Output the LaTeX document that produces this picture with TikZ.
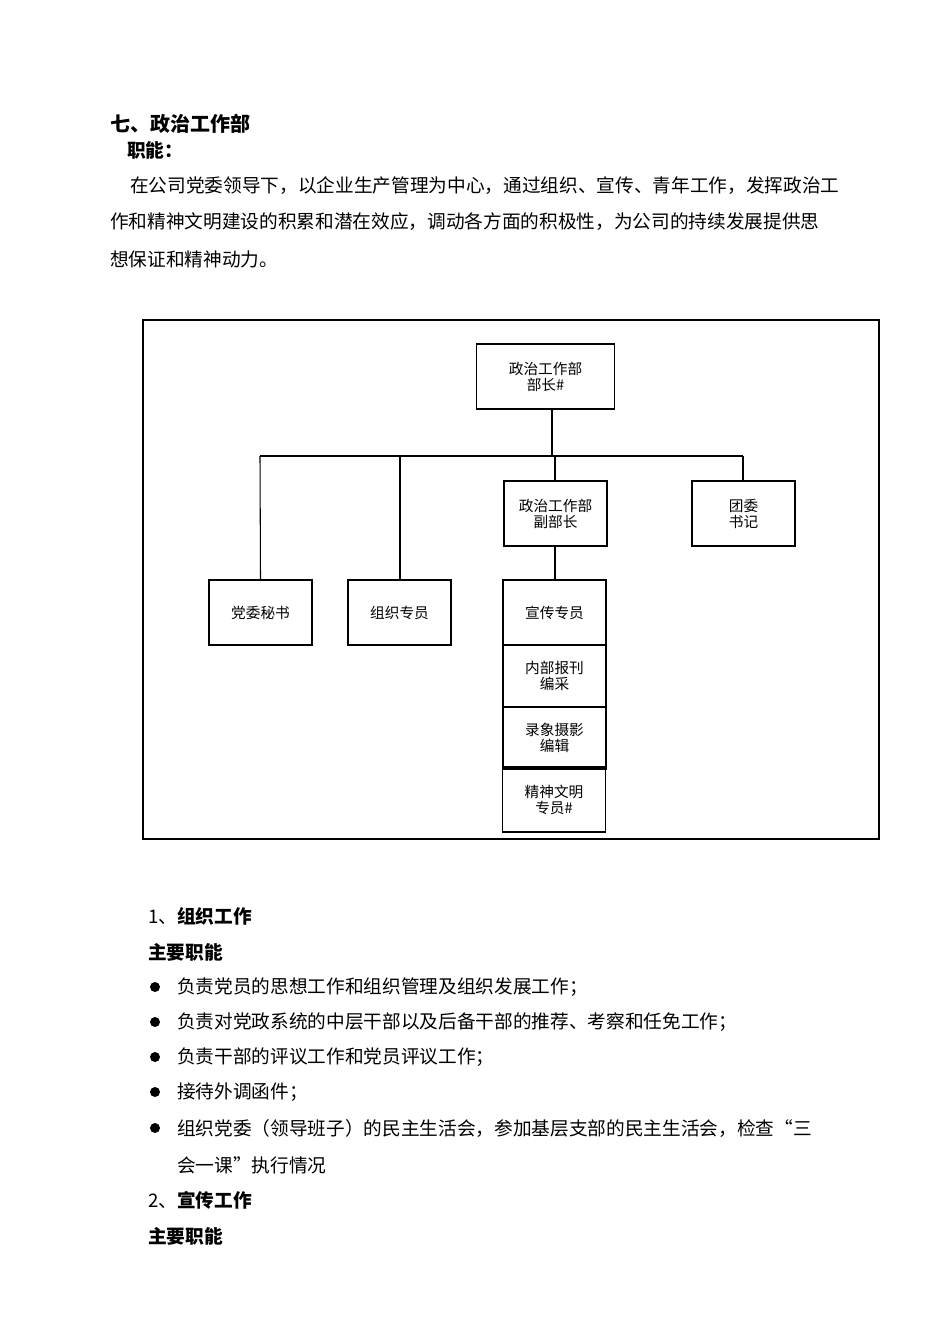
\documentclass[tikz,border=0pt]{standalone}
\usepackage{fontspec}
\setmainfont{Noto Sans CJK SC}
\usetikzlibrary{positioning}
\tikzset{
  orgbox/.style={draw, thick, inner sep=0pt, align=center, font=\fontsize{11}{12}\selectfont},
  bodytext/.style={anchor=west, inner sep=0pt, font=\fontsize{14}{16}\selectfont},
  bullet/.style={circle, fill, inner sep=0pt, minimum size=7.5pt}
}
\begin{document}
\begin{tikzpicture}[x=0.75pt, y=-0.75pt]
\useasboundingbox[fill=white] (0,0) rectangle (950,1344);

% Heading and text
\node[bodytext, font=\fontsize{15}{17}\selectfont\bfseries] (title) at (110,124) {七、政治工作部};
\node[bodytext, font=\fontsize{14}{16}\selectfont\bfseries] (duty) at (127,150) {职能：};
\node[bodytext] (para1) at (130,186) {在公司党委领导下，以企业生产管理为中心，通过组织、宣传、青年工作，发挥政治工};
\node[bodytext] (para2) at (110,222) {作和精神文明建设的积累和潜在效应，调动各方面的积极性，为公司的持续发展提供思};
\node[bodytext] (para3) at (110,259) {想保证和精神动力。};

% Chart frame
\draw[thick] (143,320) rectangle (879,839);

% Boxes
\node[orgbox, minimum width=103pt, minimum height=48.75pt] (head) at (545.5,376.5) {政治工作部\\部长\#};
\node[orgbox, minimum width=77.25pt, minimum height=48.75pt] (deputy) at (555.5,513.5) {政治工作部\\副部长};
\node[orgbox, minimum width=77.25pt, minimum height=48.75pt] (youth) at (743.5,513.5) {团委\\书记};
\node[orgbox, minimum width=77.25pt, minimum height=48.75pt] (secretary) at (260.5,612.5) {党委秘书};
\node[orgbox, minimum width=77.25pt, minimum height=48.75pt] (organize) at (399.5,612.5) {组织专员};
\node[orgbox, minimum width=77.25pt, minimum height=48.75pt] (publicity) at (554.5,612.5) {宣传专员};
\node[orgbox, minimum width=77.25pt, minimum height=46.5pt] (press) at (554.5,676) {内部报刊\\编采};
\node[orgbox, minimum width=77.25pt, minimum height=46.5pt] (video) at (554.5,738) {录象摄影\\编辑};
\node[orgbox, minimum width=77.25pt, minimum height=48.75pt] (civil) at (554,799.5) {精神文明\\专员\#};

% Connectors
\coordinate (busmid) at (552,456);
\coordinate (busleft) at (260,456);
\coordinate (busorg) at (400,456);
\coordinate (busdep) at (555,456);
\coordinate (busright) at (743,456);
\draw[thick] (head.south -| busmid) -- (busmid);
\draw[thick] (busleft) -- (busright);
\draw[thick] (busleft) -- (secretary.north);
\draw[thick] (busorg) -- (organize.north -| busorg);
\draw[thick] (busdep) -- (deputy.north -| busdep);
\draw[thick] (busright) -- (youth.north -| busright);
\draw[thick] (deputy.south -| busdep) -- (publicity.north -| busdep);

% Lower text
\node[bodytext] (sec1) at (148,916) {1、\textbf{组织工作}};
\node[bodytext, font=\fontsize{14}{16}\selectfont\bfseries] (main1) at (148,952) {主要职能};
\foreach \y/\txt in {987/负责党员的思想工作和组织管理及组织发展工作；,
  1022/负责对党政系统的中层干部以及后备干部的推荐、考察和任免工作；,
  1057/负责干部的评议工作和党员评议工作；,
  1092/接待外调函件；,
  1128/组织党委（领导班子）的民主生活会，参加基层支部的民主生活会，检查“三}{
  \node[bullet] at (155,\y) {};
  \node[bodytext] at (177,\y) {\txt};
}
\node[bodytext] (cont) at (177,1165) {会一课”执行情况};
\node[bodytext] (sec2) at (148,1200) {2、\textbf{宣传工作}};
\node[bodytext, font=\fontsize{14}{16}\selectfont\bfseries] (main2) at (148,1236) {主要职能};
\end{tikzpicture}
\end{document}
